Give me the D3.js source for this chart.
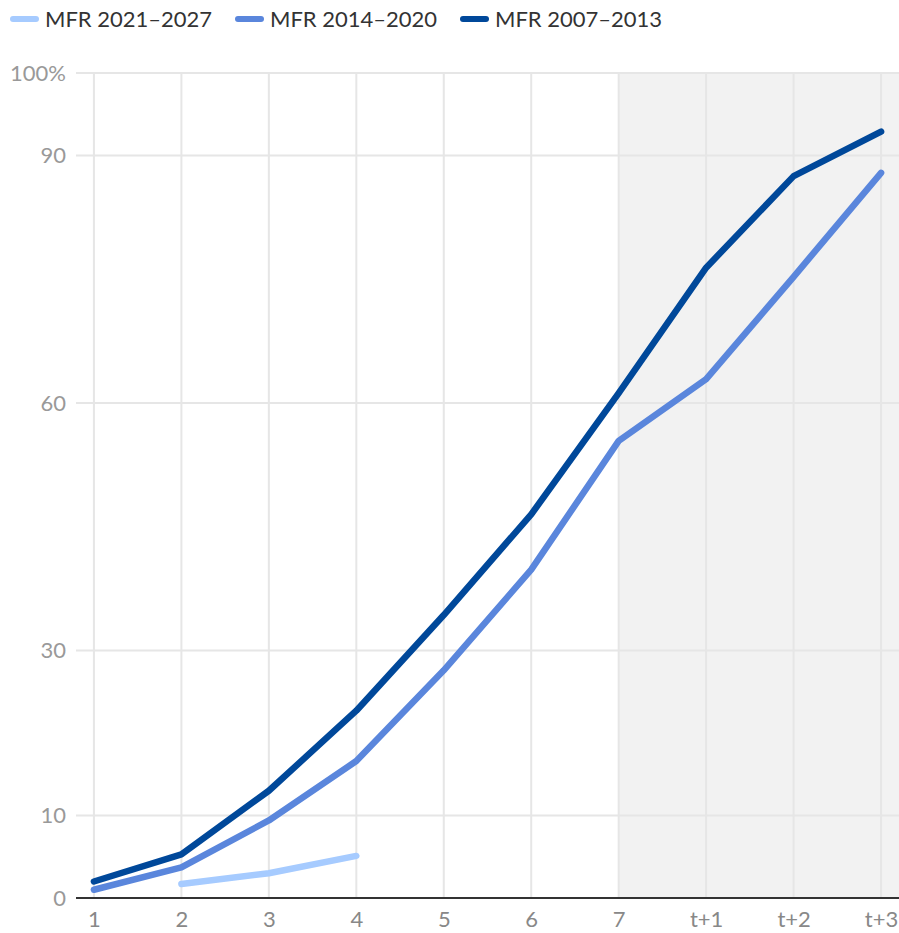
<!DOCTYPE html>
<html>
<head>
<meta charset="utf-8">
<script src="https://cdn.jsdelivr.net/npm/d3@7"></script>
<style>
  html, body { margin: 0; padding: 0; background: #fff; }
  svg { display: block; font-family: Lato, "Noto Sans", sans-serif; }
</style>
</head>
<body>
<svg id="chart" width="899" height="933"></svg>
<script>
const categories = ["1", "2", "3", "4", "5", "6", "7", "t+1", "t+2", "t+3"];
const seriesNames = ["MFR 2021\u20132027", "MFR 2014\u20132020", "MFR 2007\u20132013"];
const seriesColors = ["#a6cbff", "#5a86dc", "#00489a"];
const mfr2021 = [null, 1.7, 3.0, 5.1, null, null, null, null, null, null];
const mfr2014 = [1.0, 3.7, 9.4, 16.6, 27.6, 39.8, 55.4, 62.9, 75.3, 87.9];
const mfr2007 = [2.0, 5.3, 13.0, 22.7, 34.3, 46.5, 61.2, 76.4, 87.5, 92.9];
const yTicks = [0, 10, 30, 60, 90, 100];
const shadedFrom = "7";

const svg = d3.select("#chart");
const W = 899, H = 933;
const margin = { left: 76, right: 0, top: 73, bottom: 35 };
const x = d3.scalePoint().domain(categories).range([margin.left, W - margin.right]).padding(0.205);
const y = d3.scaleLinear().domain([0, 100]).range([H - margin.bottom, margin.top]);

// shaded forecast area
svg.append("rect")
  .attr("x", x(shadedFrom)).attr("y", y(100))
  .attr("width", W - margin.right - x(shadedFrom))
  .attr("height", y(0) - y(100))
  .attr("fill", "#f2f2f2");

// vertical grid
svg.append("g").selectAll("line").data(categories).join("line")
  .attr("x1", d => x(d)).attr("x2", d => x(d))
  .attr("y1", y(100)).attr("y2", y(0))
  .attr("stroke", "#e6e6e6").attr("stroke-width", 2);

// horizontal grid
svg.append("g").selectAll("line").data(yTicks.filter(d => d !== 0)).join("line")
  .attr("x1", margin.left).attr("x2", W - margin.right)
  .attr("y1", d => y(d)).attr("y2", d => y(d))
  .attr("stroke", "#e6e6e6").attr("stroke-width", 2);

// y axis labels
const yAxis = d3.axisLeft(y).tickValues(yTicks).tickSize(0).tickPadding(10)
  .tickFormat(d => d === 100 ? "100%" : d);
const gy = svg.append("g").attr("transform", `translate(${margin.left},0)`).call(yAxis);
gy.select(".domain").remove();
gy.selectAll("text").attr("fill", "#999").style("font-size", "22px").style("font-family", "Lato, sans-serif");

// x axis
const xAxis = d3.axisBottom(x).tickSize(0).tickPadding(13);
const gx = svg.append("g").attr("transform", `translate(0,${y(0)})`).call(xAxis);
gx.select(".domain").attr("stroke", "#333").attr("stroke-width", 2)
  .attr("d", `M${margin.left},0H${W - margin.right}`);
gx.selectAll("text").attr("fill", "#888").style("font-size", "22px").style("font-family", "Lato, sans-serif");

// lines
const data = [mfr2021, mfr2014, mfr2007];
const line = d3.line()
  .defined(d => d.v !== null)
  .x(d => x(d.c)).y(d => y(d.v));
data.forEach((vals, i) => {
  const pts = categories.map((c, j) => ({ c, v: vals[j] }));
  svg.append("path")
    .datum(pts)
    .attr("d", line)
    .attr("fill", "none")
    .attr("stroke", seriesColors[i])
    .attr("stroke-width", 6.5)
    .attr("stroke-linecap", "round")
    .attr("stroke-linejoin", "round");
});

// legend
const legendX = [10, 235, 460];
const lg = svg.append("g");
seriesNames.forEach((name, i) => {
  const g = lg.append("g").attr("transform", `translate(${legendX[i]},19)`);
  g.append("line").attr("x1", 3).attr("x2", 26).attr("y1", 0).attr("y2", 0)
    .attr("stroke", seriesColors[i]).attr("stroke-width", 6).attr("stroke-linecap", "round");
  g.append("text").attr("x", 35).attr("y", 0).attr("dy", "0.35em")
    .attr("fill", "#333").style("font-size", "22px").text(name);
});
</script>
</body>
</html>
